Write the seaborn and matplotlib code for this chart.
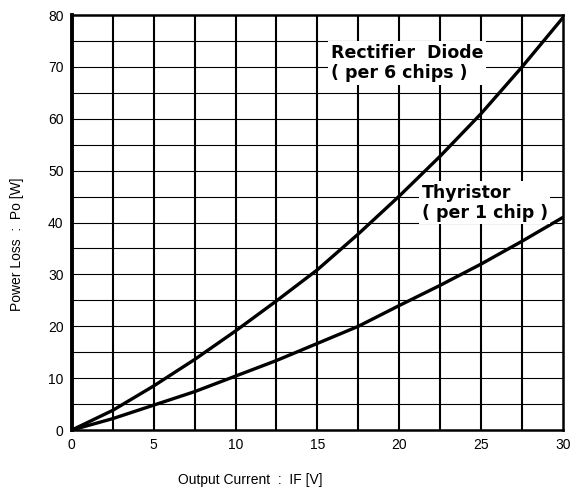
import matplotlib
matplotlib.use("Agg")
import matplotlib.pyplot as plt
import seaborn as sns
import pandas as pd
import numpy as np

current = [0, 2.5, 5, 7.5, 10, 12.5, 15, 17.5, 20, 22.5, 25, 27.5, 30]
diode_loss = [0, 3.8, 8.5, 13.6, 19.1, 24.9, 30.9, 37.8, 45.1, 52.8, 61.0, 70.0, 79.5]
thyristor_loss = [0, 2.2, 4.8, 7.4, 10.4, 13.4, 16.7, 20.0, 24.0, 27.9, 32.0, 36.4, 41.0]
x_ticks = [0, 5, 10, 15, 20, 25, 30]
y_ticks = [0, 10, 20, 30, 40, 50, 60, 70, 80]

sns.set_style("white")
plt.rcParams['font.family'] = ['Liberation Sans', 'DejaVu Sans']
plt.rcParams['text.color'] = 'black'
plt.rcParams['axes.labelcolor'] = 'black'

df = pd.DataFrame({
    "current": current * 2,
    "loss": diode_loss + thyristor_loss,
    "series": ["Rectifier Diode"] * len(current) + ["Thyristor"] * len(current),
})

fig = plt.figure(figsize=(5.75, 4.87), dpi=100)
ax = fig.add_axes([0.125, 0.117, 0.854, 0.852])

# grid
for xv in np.arange(2.5, 30, 2.5):
    ax.axvline(xv, color="black", lw=1.5, zorder=1)
for yv in np.arange(5, 80, 5):
    ax.axhline(yv, color="black", lw=0.8, zorder=1)

sns.lineplot(data=df, x="current", y="loss", hue="series",
             palette={"Rectifier Diode": "black", "Thyristor": "black"},
             lw=2.4, legend=False, ax=ax, zorder=3)

ax.set_xlim(0, 30)
ax.set_ylim(0, 80)
ax.set_xticks(x_ticks)
ax.set_yticks(y_ticks)
ax.tick_params(length=0, labelsize=10, pad=6, colors="black")
for s in ax.spines.values():
    s.set_color("black")
    s.set_linewidth(1.8)
ax.spines["left"].set_linewidth(2.8)

ax.set_xlabel("Output Current  :  IF [V]", fontsize=10)
ax.set_ylabel("Power Loss  :  Po [W]", fontsize=10)
ax.xaxis.set_label_coords(0.363, -0.104)
ax.yaxis.set_label_coords(-0.097, 0.447)

bbox = dict(facecolor="white", edgecolor="none", pad=2)
ax.text(0.528, 0.884, "Rectifier  Diode\n( per 6 chips )", transform=ax.transAxes,
        fontsize=12.5, fontweight="bold", ha="left", va="center",
        family="DejaVu Sans", linespacing=1.15, bbox=bbox, zorder=4)
ax.text(0.712, 0.548, "Thyristor\n( per 1 chip )", transform=ax.transAxes,
        fontsize=12.5, fontweight="bold", ha="left", va="center",
        family="DejaVu Sans", linespacing=1.15, bbox=bbox, zorder=4)

fig.savefig("out.png", dpi=100)
